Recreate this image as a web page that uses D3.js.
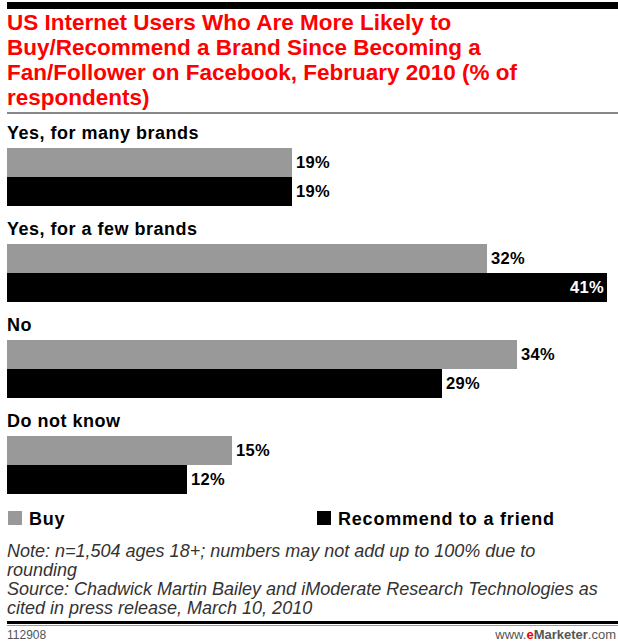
<!DOCTYPE html>
<html>
<head>
<meta charset="utf-8">
<script src="https://cdn.jsdelivr.net/npm/d3@7"></script>
<style>
  body { margin: 0; background: #fff; }
  svg { display: block; }
</style>
</head>
<body>
<script>
const categories = ['Yes, for many brands', 'Yes, for a few brands', 'No', 'Do not know'];
const seriesNames = ['Buy', 'Recommend to a friend'];
const buyValues = [19, 32, 34, 15];
const recommendValues = [19, 41, 29, 12];
const titleLines = [
  'US Internet Users Who Are More Likely to',
  'Buy/Recommend a Brand Since Becoming a',
  'Fan/Follower on Facebook, February 2010 (% of',
  'respondents)'
];
const noteLines = [
  'Note: n=1,504 ages 18+; numbers may not add up to 100% due to',
  'rounding',
  'Source: Chadwick Martin Bailey and iModerate Research Technologies as',
  'cited in press release, March 10, 2010'
];

const width = 618;
const height = 643;
const font = '"Liberation Sans", Arial, sans-serif';
const colors = ['#999999', '#000000'];

const svg = d3.select('body').append('svg')
    .attr('width', width)
    .attr('height', height)
    .style('font-family', font);

// top bar + title
svg.append('rect').attr('x', 7).attr('y', 2).attr('width', width - 7).attr('height', 7).attr('fill', '#000');

svg.selectAll('.title')
    .data(titleLines)
  .enter().append('text')
    .attr('class', 'title')
    .attr('x', 7)
    .attr('y', (d, i) => 30 + i * 25)
    .attr('fill', '#f00')
    .style('font-size', '22.5px')
    .style('font-weight', 'bold')
    .text(d => d);

svg.append('rect').attr('x', 7).attr('y', 112).attr('width', width - 7).attr('height', 2).attr('fill', '#888');

// scales
const x = d3.scaleLinear()
    .domain([0, 40])
    .range([7, 607])
    .clamp(true);

const group = d3.scaleBand()
    .domain(categories)
    .range([120, 504])
    .paddingInner(0);

const barH = 29;

const rows = categories.map((c, i) => ({ cat: c, vals: [buyValues[i], recommendValues[i]] }));

const g = svg.selectAll('.row')
    .data(rows)
  .enter().append('g')
    .attr('class', 'row')
    .attr('transform', d => 'translate(0,' + group(d.cat) + ')');

g.append('text')
    .attr('x', 7)
    .attr('y', 19)
    .style('font-size', '18px')
    .style('font-weight', 'bold')
    .style('letter-spacing', '0.5px')
    .text(d => d.cat);

const bars = g.selectAll('.bar')
    .data(d => d.vals.map((v, j) => ({ v: v, j: j })))
  .enter().append('g')
    .attr('class', 'bar');

bars.append('rect')
    .attr('x', x(0))
    .attr('y', d => 28 + d.j * barH)
    .attr('width', d => x(d.v) - x(0))
    .attr('height', barH)
    .attr('fill', d => colors[d.j]);

bars.append('text')
    .attr('x', d => x(d.v) >= 600 ? x(d.v) - 3 : x(d.v) + 4)
    .attr('y', d => 28 + d.j * barH + barH / 2)
    .attr('dy', '.35em')
    .attr('text-anchor', d => x(d.v) >= 600 ? 'end' : 'start')
    .attr('fill', d => x(d.v) >= 600 ? '#fff' : '#000')
    .style('font-size', '16.5px')
    .style('font-weight', 'bold')
    .style('letter-spacing', '0.3px')
    .text(d => d.v + '%');

// legend
const legendX = [8, 317];
const lg = svg.selectAll('.legend')
    .data(seriesNames)
  .enter().append('g')
    .attr('class', 'legend')
    .attr('transform', (d, i) => 'translate(' + legendX[i] + ',511)');

lg.append('rect')
    .attr('width', 14)
    .attr('height', 14)
    .attr('fill', (d, i) => colors[i]);

lg.append('text')
    .attr('x', 21)
    .attr('y', 14)
    .style('font-size', '18px')
    .style('font-weight', 'bold')
    .style('letter-spacing', '0.8px')
    .text(d => d);

// notes
svg.selectAll('.note')
    .data(noteLines)
  .enter().append('text')
    .attr('class', 'note')
    .attr('x', 7)
    .attr('y', (d, i) => 557 + i * 19)
    .attr('fill', '#333')
    .style('font-size', '18px')
    .style('font-style', 'italic')
    .text(d => d);

svg.append('rect').attr('x', 7).attr('y', 621).attr('width', width - 7).attr('height', 3).attr('fill', '#000');
svg.append('rect').attr('x', 7).attr('y', 625).attr('width', width - 7).attr('height', 1).attr('fill', '#999');

svg.append('text')
    .attr('x', 7)
    .attr('y', 639)
    .attr('fill', '#555')
    .style('font-size', '12px')
    .text('112908');

const brand = svg.append('text')
    .attr('x', 616)
    .attr('y', 639)
    .attr('text-anchor', 'end')
    .attr('fill', '#555')
    .style('font-size', '13px');
brand.append('tspan').text('www.');
brand.append('tspan').attr('fill', '#e00').style('font-weight', 'bold').text('e');
brand.append('tspan').style('font-weight', 'bold').text('Marketer');
brand.append('tspan').text('.com');
</script>
</body>
</html>
